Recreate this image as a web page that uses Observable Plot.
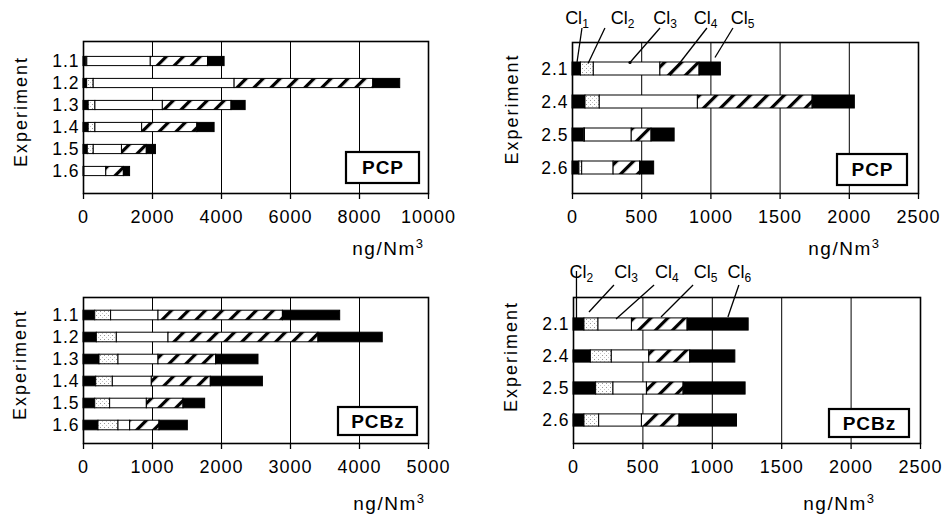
<!DOCTYPE html>
<html><head><meta charset="utf-8">
<script src="https://cdn.jsdelivr.net/npm/d3@7"></script>
<script src="https://cdn.jsdelivr.net/npm/@observablehq/plot@0.6"></script>
<style>
body{margin:0;background:#fff;}
#chart{position:relative;width:947px;height:518px;overflow:hidden;background:#fff;font-family:"Liberation Sans",Arial,Helvetica,sans-serif;}
.panel{position:absolute;}
.panel svg{overflow:visible;}
</style></head><body>
<svg width="0" height="0" style="position:absolute">
<defs>
<pattern id="hatch" patternUnits="userSpaceOnUse" width="12" height="12" patternTransform="rotate(45)">
<rect width="12" height="12" fill="#fff"/><rect width="3.2" height="12" fill="#000"/>
</pattern>
<pattern id="stipple" patternUnits="userSpaceOnUse" width="4" height="4">
<rect width="4" height="4" fill="#fff"/><rect x="0" y="0" width="1" height="1" fill="#999"/><rect x="2" y="2" width="1" height="1" fill="#c8c8c8"/>
</pattern>
</defs></svg>
<div id="chart"></div>
<script>
// ---------- data ----------
const expA = ["1.1","1.2","1.3","1.4","1.5","1.6"];
const expB = ["2.1","2.4","2.5","2.6"];
const pcpHomologs = ["Cl1","Cl2","Cl3","Cl4","Cl5"];
const pcbzHomologs = ["Cl2","Cl3","Cl4","Cl5","Cl6"];

// PCP, experiments 1.x (ng/Nm3 per homologue group)
const pcpA_Cl1 = [80, 105, 150, 150, 124, 15];
const pcpA_Cl2 = [30, 190, 195, 195, 173, 10];
const pcpA_Cl3 = [1840, 4085, 1955, 1355, 818, 635];
const pcpA_Cl4 = [1660, 4020, 1990, 1600, 720, 510];
const pcpA_Cl5 = [480, 780, 410, 500, 265, 180];
// PCP, experiments 2.x
const pcpB_Cl1 = [61, 94, 85, 50];
const pcpB_Cl2 = [93, 103, 5, 20];
const pcpB_Cl3 = [481, 709, 338, 227];
const pcpB_Cl4 = [283, 829, 143, 191];
const pcpB_Cl5 = [154, 305, 167, 102];
// PCBz, experiments 1.x
const pcbzA_Cl2 = [170, 193, 232, 184, 170, 217];
const pcbzA_Cl3 = [230, 290, 275, 241, 216, 290];
const pcbzA_Cl4 = [687, 749, 580, 565, 532, 169];
const pcbzA_Cl5 = [1803, 2173, 835, 855, 531, 425];
const pcbzA_Cl6 = [830, 932, 614, 755, 314, 411];
// PCBz, experiments 2.x
const pcbzB_Cl2 = [79, 125, 163, 79];
const pcbzB_Cl3 = [101, 151, 125, 106];
const pcbzB_Cl4 = [241, 270, 241, 308];
const pcbzB_Cl5 = [401, 295, 264, 271];
const pcbzB_Cl6 = [440, 325, 447, 414];

const ticksPcpA = [0, 2000, 4000, 6000, 8000, 10000];
const ticksPcbzA = [0, 1000, 2000, 3000, 4000, 5000];
const ticksB = [0, 500, 1000, 1500, 2000, 2500];

const xLabelMain = "ng/Nm";
const xLabelSup = "3";
const yLabel = "Experiment";

// annotation labels (homologue, subscript)
const pcpAnnot = ["Cl1","Cl2","Cl3","Cl4","Cl5"];
const pcbzAnnot = ["Cl2","Cl3","Cl4","Cl5","Cl6"];

// ---------- styles / layout ----------
const FONT = '"Liberation Sans", Arial, Helvetica, sans-serif';
const pcpFills = ["#000", "url(#stipple)", "#fff", "url(#hatch)", "#000"];
const pcbzFills = ["#000", "url(#stipple)", "#fff", "url(#hatch)", "#000"];

function rows(exps, homologs, series) {
  const out = [];
  exps.forEach((e, i) => homologs.forEach((h, j) => out.push({exp: e, homolog: h, value: series[j][i]})));
  return out;
}

const panels = [
  {left: 0, top: 0, width: 470, height: 259, mL: 83, mR: 42, mT: 41, mB: 66,
   exps: expA, homologs: pcpHomologs, fills: pcpFills,
   series: [pcpA_Cl1, pcpA_Cl2, pcpA_Cl3, pcpA_Cl4, pcpA_Cl5],
   ticks: ticksPcpA, yRange: [47.6, 184.4], inset: 6.4, tag: "PCP",
   box: {r: 9, b: 10, w: 73, h: 31}, xl: {dx: -4, dy: 55}, yl: {dx: -62, dy: -6}},
  {left: 470, top: 0, width: 477, height: 259, mL: 102, mR: 29, mT: 42, mB: 66,
   exps: expB, homologs: pcpHomologs, fills: pcpFills,
   series: [pcpB_Cl1, pcpB_Cl2, pcpB_Cl3, pcpB_Cl4, pcpB_Cl5],
   ticks: ticksB, yRange: [51.5, 183.5], inset: 10, tag: "PCP",
   box: {r: 11, b: 8, w: 70, h: 31}, xl: {dx: -38, dy: 55}, yl: {dx: -60, dy: -9},
   annot: {names: pcpAnnot, base: 24, top: 28, exp: "2.1",
     lx: [36, 365, 672, 965, 1232], x1: [72, 238, 636, 975, 1163], x2: [36, 116, 419, 708, 1033],
     endDy: [-6, -5, -6, 7, -11], y1: [null, null, null, null, null], dot: [false, false, true, false, false]}},
  {left: 0, top: 259, width: 470, height: 259, mL: 83, mR: 42, mT: 38, mB: 75,
   exps: expA, homologs: pcbzHomologs, fills: pcbzFills,
   series: [pcbzA_Cl2, pcbzA_Cl3, pcbzA_Cl4, pcbzA_Cl5, pcbzA_Cl6],
   ticks: ticksPcbzA, yRange: [43.8, 178.2], inset: 6.2, tag: "PCBz",
   box: {r: 11, b: 8, w: 79, h: 28}, xl: {dx: -3, dy: 60}, yl: {dx: -63, dy: -6}},
  {left: 470, top: 259, width: 477, height: 259, mL: 103, mR: 27, mT: 38, mB: 75,
   exps: expB, homologs: pcbzHomologs, fills: pcbzFills,
   series: [pcbzB_Cl2, pcbzB_Cl3, pcbzB_Cl4, pcbzB_Cl5, pcbzB_Cl6],
   ticks: ticksB, yRange: [47.1, 178.4], inset: 9.9, tag: "PCBz",
   box: {r: 11, b: 6, w: 80, h: 28}, xl: {dx: -45, dy: 60}, yl: {dx: -62, dy: -14},
   annot: {names: pcbzAnnot, base: 19, top: 26, exp: "2.1",
     lx: [61, 382, 677, 955, 1199], x1: [25, 295, 584, 865, 1195], x2: [25, 115, 310, 634, 1116],
     endDy: [-4, -12, -5, -7, -7], y1: [12, null, null, null, null], dot: [false, false, false, false, false]}}
];

const chart = document.getElementById("chart");

panels.forEach(cfg => {
  const data = rows(cfg.exps, cfg.homologs, cfg.series);
  const max = cfg.ticks[cfg.ticks.length - 1];
  const svg = Plot.plot({
    width: cfg.width, height: cfg.height,
    marginLeft: cfg.mL, marginRight: cfg.mR, marginTop: cfg.mT, marginBottom: cfg.mB,
    style: {fontFamily: FONT, fontSize: "18px", color: "#000", background: "transparent", letterSpacing: "1px"},
    x: {domain: [0, max]},
    y: {type: "band", domain: cfg.exps, range: cfg.yRange, padding: 0},
    color: {type: "ordinal", domain: cfg.homologs, range: cfg.fills},
    marks: [
      Plot.gridX(cfg.ticks.slice(1, -1), {stroke: "#000", strokeOpacity: 1, strokeWidth: 1}),
      Plot.barX(data, {y: "exp", x: "value", fill: "homolog", order: cfg.homologs,
        stroke: "#000", strokeWidth: 1, insetTop: cfg.inset, insetBottom: cfg.inset}),
      Plot.frame({stroke: "#000", strokeWidth: 1.6}),
      Plot.axisX(cfg.ticks, {tickFormat: "d", tickSize: 6, tickPadding: 11, label: null, fontSize: 18, strokeWidth: 1.3}),
      Plot.axisY({tickSize: 0, tickPadding: 4, label: null, fontSize: 17.5}),
      Plot.text([xLabelMain], {frameAnchor: "bottom-right", text: d => d, textAnchor: "end", lineAnchor: "middle",
        dx: cfg.xl.dx, dy: cfg.xl.dy, fontSize: 19}),
      Plot.text([yLabel], {frameAnchor: "left", text: d => d, rotate: -90, textAnchor: "middle", lineAnchor: "middle",
        dx: cfg.yl.dx, dy: cfg.yl.dy, fontSize: 18})
    ]
  });
  const div = document.createElement("div");
  div.className = "panel";
  div.style.left = cfg.left + "px";
  div.style.top = cfg.top + "px";
  div.appendChild(svg);
  chart.appendChild(div);

  const s = d3.select(svg);
  s.selectAll("text").filter(function() { return this.textContent === yLabel; }).style("letter-spacing", "2px");
  s.selectAll("text").filter(function() { return this.textContent === xLabelMain; }).each(function() {
    const t = d3.select(this).style("letter-spacing", "1.5px");
    t.text(null);
    t.append("tspan").text(xLabelMain);
    t.append("tspan").text(xLabelSup).attr("font-size", 13).attr("dy", -7);
  });

  // tag box
  const right = cfg.width - cfg.mR - cfg.box.r, bottom = cfg.height - cfg.mB - cfg.box.b;
  const g = s.append("g");
  g.append("rect").attr("x", right - cfg.box.w).attr("y", bottom - cfg.box.h)
    .attr("width", cfg.box.w).attr("height", cfg.box.h)
    .attr("fill", "#fff").attr("stroke", "#000").attr("stroke-width", 2.2);
  g.append("text").text(cfg.tag).attr("x", right - cfg.box.w / 2 + 0.5).attr("y", bottom - cfg.box.h / 2)
    .attr("dy", "0.36em").attr("text-anchor", "middle").attr("font-weight", "bold")
    .attr("font-size", 19).style("letter-spacing", "1px");

  // homologue annotations
  if (cfg.annot) {
    const xs = svg.scale("x"), ys = svg.scale("y");
    const X = v => xs.apply(v);
    const yc = ys.apply(cfg.annot.exp) + ys.bandwidth / 2;
    const a = cfg.annot;
    const ga = s.append("g");
    a.names.forEach((name, i) => {
      const t = ga.append("text").attr("x", X(a.lx[i])).attr("y", a.base)
        .attr("text-anchor", "middle").attr("font-size", 18).style("letter-spacing", "0px");
      t.append("tspan").text(name.slice(0, 2));
      t.append("tspan").text(name.slice(2)).attr("font-size", 12).attr("dy", 4);
      const y1 = a.y1[i] == null ? a.top : a.y1[i];
      ga.append("line").attr("x1", X(a.x1[i])).attr("y1", y1)
        .attr("x2", X(a.x2[i])).attr("y2", yc + a.endDy[i])
        .attr("stroke", "#000").attr("stroke-width", 1.3);
      if (a.dot[i]) ga.append("circle").attr("cx", X(a.x2[i])).attr("cy", yc + a.endDy[i]).attr("r", 1.6).attr("fill", "#000");
    });
  }
});
</script>
</body></html>
